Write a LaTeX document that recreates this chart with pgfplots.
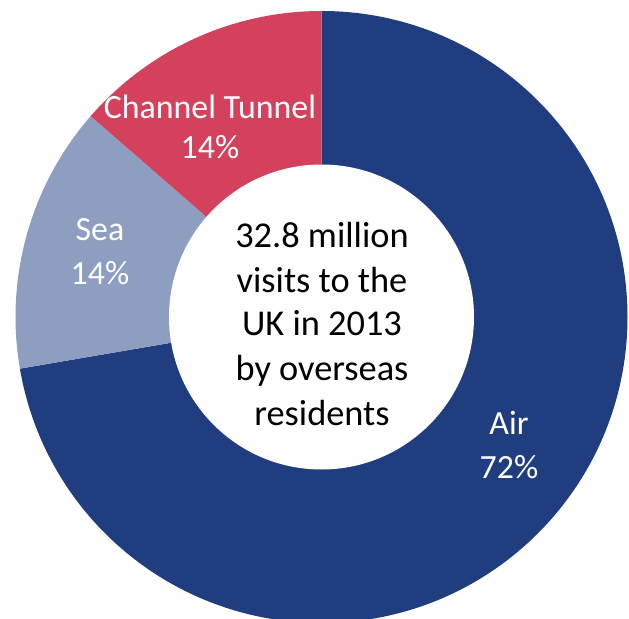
\documentclass[border=0pt]{standalone}
\usepackage{pgfplots}
\pgfplotsset{compat=1.18}
\usepackage{pgfplotstable}
\usepackage{fontspec}
\setmainfont{Carlito}
\definecolor{airblue}{HTML}{203D80}
\definecolor{seablue}{HTML}{8E9EC0}
\definecolor{tunnelred}{HTML}{D3415C}
\pgfplotstableread{
label value
Air 72.3
Sea 14.1
Tunnel 13.6
}\data
\pgfplotstablegetelem{0}{value}\of\data \let\vAir\pgfplotsretval
\pgfplotstablegetelem{1}{value}\of\data \let\vSea\pgfplotsretval
\pgfplotstablegetelem{2}{value}\of\data \let\vTun\pgfplotsretval
\pgfmathsetmacro\aA{90-3.6*\vAir}
\pgfmathsetmacro\aB{\aA-3.6*\vSea}
\pgfmathsetmacro\aC{\aB-3.6*\vTun}
\def\cx{321.5}
\def\cy{302}
\begin{document}
\begin{tikzpicture}
\path[use as bounding box] (0,0) rectangle (629bp,619bp);
\begin{axis}[x=1bp, y=1bp, xmin=0, xmax=629, ymin=0, ymax=619,
  hide axis, scale only axis, clip=true, at={(0,0)}, anchor=south west]
\fill[airblue] (axis cs:\cx,\cy) -- ++(90:306bp) arc[start angle=90, end angle=\aA, radius=306bp] -- cycle;
\fill[seablue] (axis cs:\cx,\cy) -- ++(\aA:306bp) arc[start angle=\aA, end angle=\aB, radius=306bp] -- cycle;
\fill[tunnelred] (axis cs:\cx,\cy) -- ++(\aB:306bp) arc[start angle=\aB, end angle=\aC, radius=306bp] -- cycle;
\fill[white] (axis cs:\cx,\cy) circle[radius=152.5bp];
\tikzset{lab/.style={anchor=base, inner sep=0pt, text=white, font=\fontsize{34}{40}\selectfont},
         ctr/.style={anchor=base, inner sep=0pt, text=black, font=\fontsize{36.5}{44}\selectfont}}
\node[lab] at (axis cs:210,500) {Channel Tunnel};
\node[lab] at (axis cs:210,460) {14\%};
\node[lab] at (axis cs:100,379) {Sea};
\node[lab] at (axis cs:100,335) {14\%};
\node[lab] at (axis cs:509,185) {Air};
\node[lab] at (axis cs:509,141) {72\%};
\node[ctr] at (axis cs:322,372) {32.8 million};
\node[ctr] at (axis cs:322,327) {visits to the};
\node[ctr] at (axis cs:322,284) {UK in 2013};
\node[ctr] at (axis cs:322,239) {by overseas};
\node[ctr] at (axis cs:322,194) {residents};
\end{axis}
\end{tikzpicture}
\end{document}
